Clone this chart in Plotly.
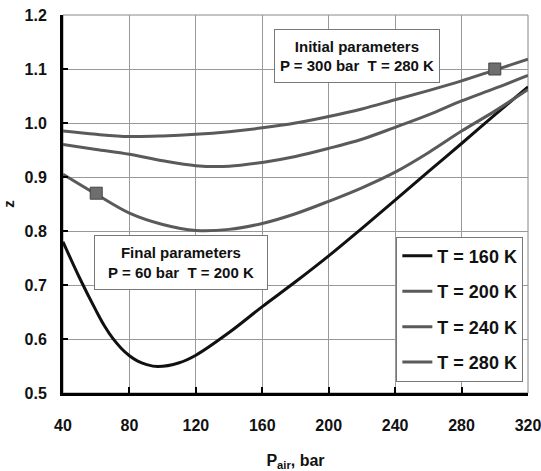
import plotly.graph_objects as go

# Data
p_160 = [40, 50, 60, 65, 70, 75, 80, 85, 90, 97, 110, 120, 140, 160, 180, 200, 220, 240, 260, 280, 300, 320]
z_160 = [0.78, 0.713, 0.652, 0.624, 0.601, 0.583, 0.569, 0.559, 0.553, 0.549, 0.556, 0.570, 0.612, 0.660, 0.706, 0.754, 0.805, 0.857, 0.910, 0.962, 1.015, 1.067]

p_std = [40, 60, 80, 100, 120, 140, 160, 180, 200, 220, 240, 260, 280, 300, 320]
z_200 = [0.905, 0.868, 0.833, 0.812, 0.801, 0.803, 0.814, 0.832, 0.855, 0.880, 0.909, 0.945, 0.985, 1.022, 1.062]
z_240 = [0.96, 0.951, 0.942, 0.930, 0.921, 0.920, 0.927, 0.938, 0.953, 0.970, 0.992, 1.015, 1.041, 1.064, 1.088]
z_280 = [0.985, 0.979, 0.975, 0.976, 0.979, 0.984, 0.991, 1.000, 1.012, 1.026, 1.043, 1.060, 1.078, 1.098, 1.118]

marker_p = [60, 300]
marker_z = [0.87, 1.10]

series = [
    ("T = 160 K", p_160, z_160, "#111111"),
    ("T = 200 K", p_std, z_200, "#5a5a5a"),
    ("T = 240 K", p_std, z_240, "#5a5a5a"),
    ("T = 280 K", p_std, z_280, "#5a5a5a"),
]

x_ticks = [40, 80, 120, 160, 200, 240, 280, 320]
y_ticks = [0.5, 0.6, 0.7, 0.8, 0.9, 1.0, 1.1, 1.2]

FONT = "Liberation Sans, Arial, sans-serif"

fig = go.Figure()
for i, (name, xs, ys, col) in enumerate(series):
    fig.add_trace(go.Scatter(
        x=xs, y=ys, mode="lines", name=f"<b>{name}</b>",
        line=dict(color=col, width=3, shape="spline", smoothing=1.0),
        legendgroup=f"g{i}",
    ))

fig.add_trace(go.Scatter(
    x=marker_p, y=marker_z, mode="markers", showlegend=False,
    marker=dict(symbol="square", size=12, color="#6e6e6e", line=dict(color="#444", width=1)),
))

fig.add_annotation(
    x=217, y=1.124, xref="x", yref="y",
    text="<b>Initial parameters</b><br><b>P = 300 bar  T = 280 K</b>",
    showarrow=False, font=dict(family=FONT, size=15, color="#111"),
    width=154, height=42,
    bgcolor="white", bordercolor="#777", borderwidth=1, borderpad=5,
)
fig.add_annotation(
    x=111, y=0.741, xref="x", yref="y",
    text="<b>Final parameters</b><br><b>P = 60 bar  T = 200 K</b>",
    showarrow=False, font=dict(family=FONT, size=15, color="#111"),
    width=162, height=43,
    bgcolor="white", bordercolor="#777", borderwidth=1, borderpad=5,
)

# thin frame on top/right
fig.add_shape(type="rect", xref="paper", yref="paper", x0=0, y0=0, x1=1, y1=1,
              line=dict(color="#888", width=1), layer="below")

fig.update_layout(
    width=541, height=471,
    margin=dict(l=63, r=13, t=15, b=78),
    paper_bgcolor="white", plot_bgcolor="white",
    font=dict(family=FONT, size=16, color="#111"),
    showlegend=True,
    legend=dict(
        x=0.99, y=0.03, xanchor="right", yanchor="bottom",
        bgcolor="white", bordercolor="#777", borderwidth=1,
        font=dict(family=FONT, size=18, color="#111"),
        tracegroupgap=9, itemwidth=30,
    ),
)

fig.update_xaxes(
    range=[40, 320], tickvals=x_ticks, ticktext=[f"<b>{v}</b>" for v in x_ticks],
    showgrid=True, gridcolor="#999", gridwidth=1,
    showline=True, linecolor="black", linewidth=3,
    ticks="inside", ticklen=6, tickwidth=2, tickcolor="black",
    ticklabelstandoff=16, ticklabeloverflow="allow", zeroline=False, automargin=False,
    title=dict(text="<b>P<sub>air</sub>, bar</b>", font=dict(family=FONT, size=16), standoff=24),
)
fig.update_yaxes(
    range=[0.5, 1.2], tickvals=y_ticks, ticktext=[f"<b>{v:.1f}</b>" for v in y_ticks],
    showgrid=True, gridcolor="#999", gridwidth=1,
    showline=True, linecolor="black", linewidth=3,
    ticks="inside", ticklen=5, tickwidth=2, tickcolor="black",
    ticklabelstandoff=10, ticklabeloverflow="allow", zeroline=False, automargin=False,
    title=dict(text="<b>z</b>", font=dict(family=FONT, size=15), standoff=26),
)

fig.write_html("out.html")
